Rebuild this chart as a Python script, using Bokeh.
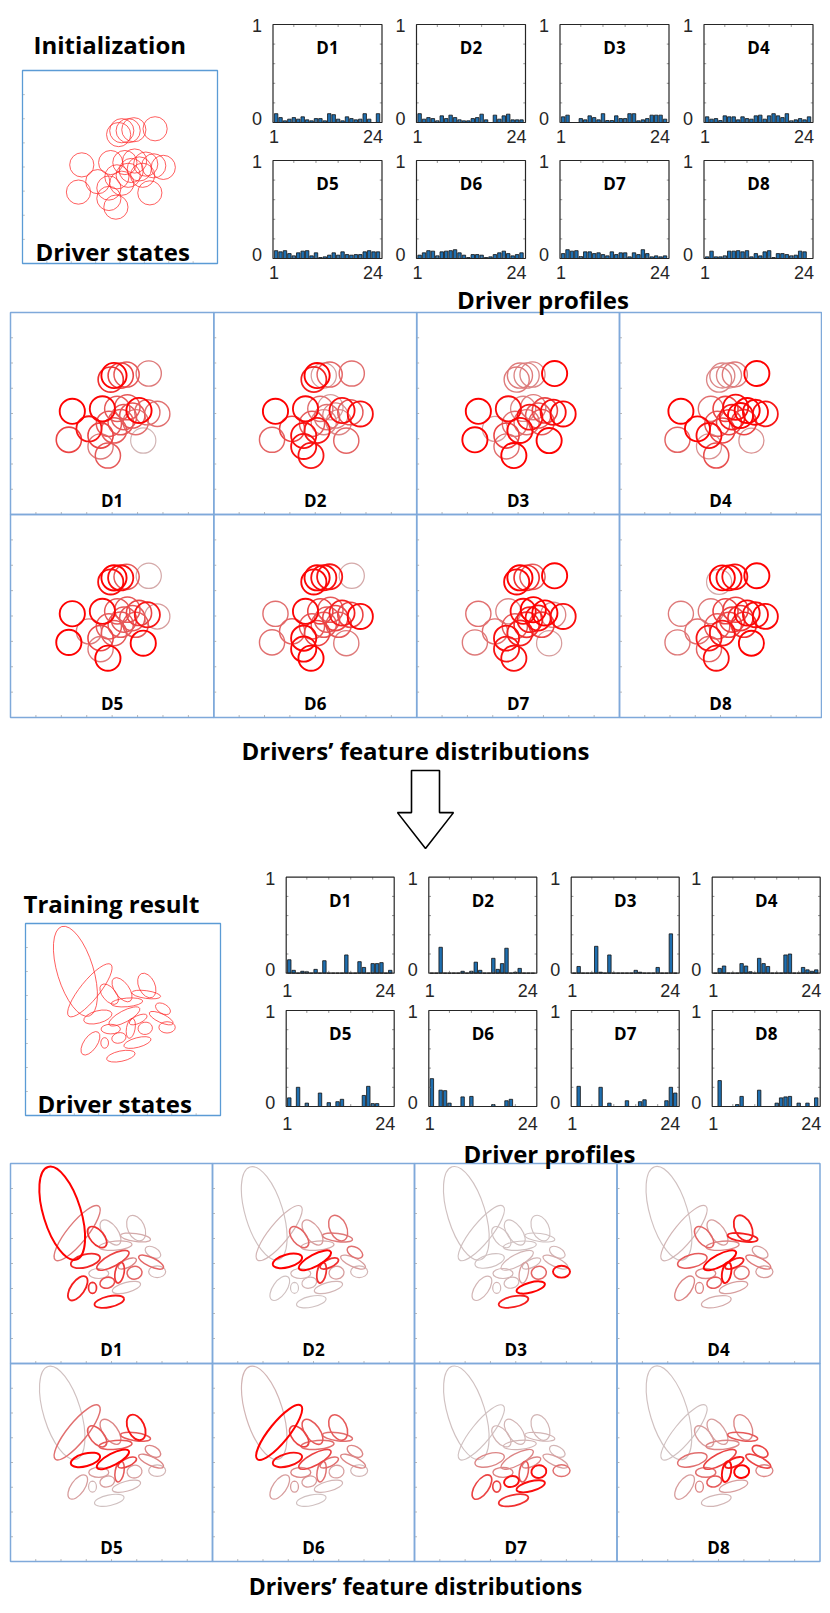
import numpy as np
from bokeh.plotting import figure
from bokeh.models import Range1d, ColumnDataSource
from bokeh.core.properties import value
from bokeh.embed import file_html
from bokeh.resources import INLINE

# ---------------------------------------------------------------- data
drivers = ["D1", "D2", "D3", "D4", "D5", "D6", "D7", "D8"]
bins = list(range(1, 25))
x_tick_values = [1, 24]
x_tick_labels = ["1", "24"]
y_tick_values = [0, 1]
y_tick_labels = ["0", "1"]

# driver profiles at initialization (share of each of the 24 states)
init_D1 = [.09, .05, .017, .034, .05, .034, .058, .027, .017, .04, .04, .017, .09, .08, .034, .017, .058, .04, .027, .034, .09, .034, 0, .09]
init_D2 = [.09, .034, .05, .04, .017, .068, .04, .075, .05, .027, .017, .017, .04, .05, .085, .027, 0, .075, .034, .068, .085, .027, .027, .027]
init_D3 = [.058, .075, 0, 0, .04, .027, .068, .05, .027, .09, .02, .02, .068, .04, .04, .09, .09, .017, .027, .04, .075, .075, .075, .034]
init_D4 = [.058, .034, .04, .02, .068, .058, .058, .027, .058, .04, .034, .068, .075, .034, .068, .09, .068, .05, .09, .017, .027, .04, .027, .058]
init_D5 = [.08, .068, .08, .05, .027, .058, .075, .08, .027, .058, .01, .017, .034, .058, .034, .068, .04, .034, .04, .04, .068, .08, .068, .068]
init_D6 = [.034, .058, .08, .075, .027, .068, .075, .08, .09, .058, .034, .01, .04, .04, .034, .01, .017, .04, .058, .075, .05, .027, .04, .058]
init_D7 = [.05, .09, .075, .08, .02, .068, .068, .05, .058, .04, .027, .068, .04, .058, .058, .017, .058, .04, .09, .05, .017, .027, .017, .027]
init_D8 = [.017, .075, .017, .017, .027, .075, .075, .08, .068, .08, .017, .05, .027, .068, .08, .01, .05, .05, .04, .027, .034, .075, .068, 0]

# driver profiles after training
trained_D1 = [.14, .03, 0, .02, .015, 0, .04, 0, .13, 0, 0, 0, 0, .19, 0, 0, .12, .06, 0, .1, .1, .11, 0, .03]
trained_D2 = [0, 0, .27, 0, 0, 0, 0, .02, 0, .02, .115, .03, 0, 0, .155, .04, .1, .26, 0, .01, .05, 0, 0, 0]
trained_D3 = [0, .07, 0, 0, 0, .28, .01, 0, .19, 0, 0, 0, 0, 0, .03, .01, 0, 0, 0, .06, 0, 0, .41, 0]
trained_D4 = [0, .05, .075, 0, 0, 0, .1, .075, .015, 0, .155, .1, .07, 0, 0, 0, .19, .2, 0, 0, .06, .035, .02, .035]
trained_D5 = [.09, 0, .2, 0, .035, 0, 0, .14, 0, .04, 0, .05, .075, 0, 0, 0, 0, .115, .21, .03, .03, 0, 0, 0]
trained_D6 = [.29, 0, .17, .165, .035, 0, 0, .1, 0, .105, 0, 0, 0, 0, .02, 0, 0, .06, .075, 0, 0, 0, 0, 0]
trained_D7 = [0, .21, 0, 0, 0, 0, .2, 0, .035, 0, 0, 0, .06, 0, 0, .05, .07, 0, 0, 0, 0, .06, .2, .14]
trained_D8 = [0, .27, 0, 0, 0, .02, .105, 0, 0, 0, .17, 0, 0, 0, .035, .09, .1, .105, 0, .035, 0, .035, 0, .09]

# initial driver states (circles), normalised state-space coordinates
state_x = [.509, .542, .571, .493, .680, .304, .452, .525, .575, .632, .722, .673, .558, .599, .542, .386, .287, .443, .509, .653, .443, .479, .484, .616]
state_y = [.688, .688, .693, .668, .698, .511, .523, .523, .531, .515, .498, .506, .482, .490, .457, .424, .370, .391, .416, .366, .337, .292, .449, .457]
state_r = 0.062

# weight of each initial state in each driver's feature distribution
init_w_D1 = [1, .6, .5, .7, .35, 1, .95, .5, .5, 1, .4, .4, .5, .5, .5, .85, .6, .6, .5, .1, .35, .5, .5, .4]
init_w_D2 = [1, .2, .45, .8, .4, 1, .95, .4, .2, .9, .9, .5, .4, .3, .3, .6, .45, .9, .85, .45, .9, .85, .5, .3]
init_w_D3 = [.35, .3, .3, .35, 1, 1, .9, .3, .35, .6, .95, .9, .85, .5, .4, .2, 1, .6, .95, 1, .4, 1, .4, .5]
init_w_D4 = [.3, .3, .35, .3, 1, 1, .4, .6, .9, 1, .85, .95, .8, .95, .6, 1, .45, .9, .6, .25, .25, .55, .5, .6]
init_w_D5 = [1, .9, .5, .9, .15, 1, .95, .5, .5, .6, .2, .85, .5, .5, .5, .35, 1, .6, .5, 1, .35, 1, .5, .5]
init_w_D6 = [.95, .9, .85, .95, .15, .4, .95, .6, .5, .8, .95, .6, .5, .6, .5, .45, .4, .95, .6, .35, .95, 1, .5, .5]
init_w_D7 = [1, .7, .5, .95, 1, .4, .3, .9, 1, 1, .9, .3, .8, .9, .7, .4, .35, .9, .8, .2, .85, .9, .5, .6]
init_w_D8 = [1, .95, .9, .15, 1, .35, .35, .6, .6, .95, .95, .9, .6, .7, .6, .4, .35, .85, .85, 1, .45, .9, .5, .7]

# trained driver states (ellipses): centre, axis lengths, orientation (deg)
ell_x = [.256, .330, .495, .429, .622, .619, .371, .507, .705, .696, .726, .540, .614, .479, .406, .333, .574, .489, .437, .578, .520]
ell_y = [.751, .652, .655, .632, .677, .630, .513, .516, .556, .507, .459, .454, .454, .404, .378, .376, .380, .309, .450, .500, .589]
ell_major = [.48, .342, .144, .124, .134, .149, .149, .178, .084, .134, .084, .104, .074, .074, .054, .139, .144, .149, .099, .099, .163]
ell_minor = [.188, .099, .074, .069, .084, .04, .064, .059, .05, .045, .059, .045, .064, .054, .04, .069, .05, .054, .05, .04, .045]
ell_angle = [107, 51, 126, 130, 115, -8, 15, 28, -30, -25, 0, 80, 10, 15, 90, 55, 15, 12, 0, 25, 5]

trained_w_D1 = [1, .35, .1, .7, .1, .15, .75, .6, .1, .45, .1, .65, .45, .55, .7, .8, .1, .85, .1, .3, .15]
trained_w_D2 = [.05, .1, .2, .45, .4, .35, 1, 1, .4, .2, .1, .7, .2, .1, .05, .05, .1, .05, .1, .7, .15]
trained_w_D3 = [.05, .05, .05, .05, .05, .05, .05, .1, .1, .15, .9, .2, .45, .1, .1, .1, 1, .8, .1, .1, .05]
trained_w_D4 = [.05, .1, .2, .45, .8, .8, .5, 1, .2, .35, .2, .9, .4, .5, .3, .3, .2, .15, .3, .8, .3]
trained_w_D5 = [.05, .4, .3, .5, .85, .5, 1, 1, .3, .3, .1, .5, .2, .2, .1, .2, .1, .05, .2, .6, .5]
trained_w_D6 = [.1, 1, .5, .6, .5, .4, .9, .6, .3, .3, .1, .4, .2, .2, .2, .2, .1, .05, .3, .4, .4]
trained_w_D7 = [.05, .05, .1, .1, .1, .1, .3, .3, .1, .2, .4, .5, .9, .9, .6, .6, .9, .7, .3, .3, .1]
trained_w_D8 = [.05, .05, .2, .2, .3, .5, .4, .6, .6, .6, .3, .9, 1, .5, .3, .2, .2, .1, .4, .8, .3]

init_profiles = [init_D1, init_D2, init_D3, init_D4, init_D5, init_D6, init_D7, init_D8]
trained_profiles = [trained_D1, trained_D2, trained_D3, trained_D4, trained_D5, trained_D6, trained_D7, trained_D8]
init_weights = [init_w_D1, init_w_D2, init_w_D3, init_w_D4, init_w_D5, init_w_D6, init_w_D7, init_w_D8]
trained_weights = [trained_w_D1, trained_w_D2, trained_w_D3, trained_w_D4, trained_w_D5, trained_w_D6, trained_w_D7, trained_w_D8]

# ---------------------------------------------------------------- figure
W, H = 822, 1605
OX, OY = 0, 0
p = figure(width=W, height=H, x_range=Range1d(OX, OX + W), y_range=Range1d(OY + H, OY),
           x_axis_type=None, y_axis_type=None, title=None, min_border=0,
           output_backend="svg", toolbar_location=None)
p.outline_line_color = None
p.background_fill_color = "white"

BOLD = dict(text_font=value("Open Sans"), text_font_style="bold", text_color="#000000")
TICKF = dict(text_font=value("Liberation Sans"), text_font_size="18px", text_color="#262626")


def box(name, L, R, T, B, x0, x1, y0, y1):
    kx = (x1 - x0) / (R - L)
    ky = (y1 - y0) / (B - T)
    p.extra_x_ranges[name] = Range1d(x0 - (L - OX) * kx, x1 + (OX + W - R) * kx)
    p.extra_y_ranges[name] = Range1d(y0 - (OY + H - B) * ky, y1 + (T - OY) * ky)
    return dict(x_range_name=name, y_range_name=name)


def shade(t):
    # light grey (low weight) -> pure red (high weight)
    r = int(round(205 + 50 * t))
    g = int(round(205 * (1 - t) ** 1.2))
    return "#%02x%02x%02x" % (r, g, g)


def frame_ticks(kw, color):
    fr = [k / 8 for k in range(1, 8)]
    p.segment(x0=[0] * 7, y0=fr, x1=[0.012] * 7, y1=fr, line_color=color, line_width=1, **kw)
    p.segment(x0=fr, y0=[0] * 7, x1=fr, y1=[0.012] * 7, line_color=color, line_width=1, **kw)


XLO, XHI = 0.3, 24.9


def bar_panel(name, L, T, w, h, label, vals, xlab_off):
    kw = box(name, L, L + w, T, T + h, XLO, XHI, 0, 1)
    p.vbar(x=bins, top=vals, bottom=0, width=0.78, fill_color="#1f6fb0",
           line_color="#111111", line_width=0.8, **kw)
    tk = [5, 10, 15, 20]
    p.segment(x0=tk, y0=[1] * 4, x1=tk, y1=[0.975] * 4, line_color="#777777", line_width=0.8, **kw)
    p.segment(x0=tk, y0=[0] * 4, x1=tk, y1=[0.025] * 4, line_color="#777777", line_width=0.8, **kw)
    yt = [0.2, 0.4, 0.6, 0.8]
    p.segment(x0=[XLO] * 4, y0=yt, x1=[XLO + 0.5] * 4, y1=yt, line_color="#777777", line_width=0.8, **kw)
    p.segment(x0=[XHI] * 4, y0=yt, x1=[XHI - 0.5] * 4, y1=yt, line_color="#777777", line_width=0.8, **kw)
    p.quad(left=[XLO], right=[XHI], bottom=[0], top=[1], fill_color=None,
           line_color="#262626", line_width=1.2, **kw)
    p.text(x=[(XLO + XHI) / 2], y=[1], text=[label], y_offset=23, text_align="center",
           text_baseline="alphabetic", text_font_size="17px", **BOLD, **kw)
    p.text(x=[XLO], y=[y_tick_values[1]], text=[y_tick_labels[1]], x_offset=-16, y_offset=1,
           text_align="center", text_baseline="middle", **TICKF, **kw)
    p.text(x=[XLO], y=[y_tick_values[0]], text=[y_tick_labels[0]], x_offset=-16, y_offset=-4,
           text_align="center", text_baseline="middle", **TICKF, **kw)
    p.text(x=[x_tick_values[0]], y=[0], text=[x_tick_labels[0]], x_offset=-2, y_offset=xlab_off,
           text_align="center", text_baseline="middle", **TICKF, **kw)
    p.text(x=[x_tick_values[1]], y=[0], text=[x_tick_labels[1]], x_offset=-5, y_offset=xlab_off,
           text_align="center", text_baseline="middle", **TICKF, **kw)


def circle_panel(name, L, R, T, B, weights, label, border):
    kw = box(name, L, R, T, B, 0, 1, 0, 1)
    order = np.argsort(weights, kind="stable")
    src = ColumnDataSource(dict(
        x=[state_x[i] for i in order], y=[state_y[i] for i in order],
        c=[shade(weights[i]) for i in order], lw=[1.1 + 0.8 * weights[i] for i in order]))
    p.circle(x="x", y="y", radius=state_r, source=src, fill_color=None,
             line_color="c", line_width="lw", **kw)
    frame_ticks(kw, "#b5b5b5")
    p.quad(left=[0], right=[1], bottom=[0], top=[1], fill_color=None,
           line_color=border, line_width=1.5, **kw)
    p.text(x=[0.5], y=[0], text=[label], y_offset=-14, text_align="center",
           text_baseline="alphabetic", text_font_size="17px", **BOLD, **kw)


def ellipse_panel(name, L, R, T, B, weights, label, border):
    kw = box(name, L, R, T, B, 0, 1, 0, 1)
    order = np.argsort(weights, kind="stable")
    src = ColumnDataSource(dict(
        x=[ell_x[i] for i in order], y=[ell_y[i] for i in order],
        w=[ell_major[i] for i in order], h=[ell_minor[i] for i in order],
        a=[ell_angle[i] for i in order],
        c=[shade(weights[i]) for i in order], lw=[1.1 + 0.9 * weights[i] for i in order]))
    p.ellipse(x="x", y="y", width="w", height="h", angle="a", angle_units="deg", source=src,
              fill_color=None, line_color="c", line_width="lw", **kw)
    frame_ticks(kw, "#b5b5b5")
    p.quad(left=[0], right=[1], bottom=[0], top=[1], fill_color=None,
           line_color=border, line_width=1.5, **kw)
    p.text(x=[0.5], y=[0], text=[label], y_offset=-14, text_align="center",
           text_baseline="alphabetic", text_font_size="17px", **BOLD, **kw)


# ---------------- section 1 : initialization
kw = box("states0", 22, 217, 70, 263, 0, 1, 0, 1)
p.circle(x=state_x, y=state_y, radius=state_r, fill_color=None, line_color="#ff2a2a",
         line_alpha=0.75, line_width=1, **kw)
frame_ticks(kw, "#c0c0c0")
p.quad(left=[0], right=[1], bottom=[0], top=[1], fill_color=None, line_color="#5b9bd5",
       line_width=1.3, **kw)

bar_l1 = [272.5, 416, 559.5, 703.5]
bar_t1 = [24, 160]
for i, d in enumerate(drivers):
    bar_panel("b0_%d" % i, bar_l1[i % 4], bar_t1[i // 4], 109, 98, d, init_profiles[i], 14)

gx1 = [10, 213.3, 416.2, 619, 821]
gy1 = [312, 514, 717]
for i, d in enumerate(drivers):
    c, r = i % 4, i // 4
    circle_panel("f0_%d" % i, gx1[c], gx1[c + 1], gy1[r], gy1[r + 1], init_weights[i], d, "#7fa9da")

# ---------------- arrow
kw = box("arrow", 397, 453, 770, 848, -0.5, 0.5, 0, 1)
p.patch(x=[-0.25, 0.25, 0.25, 0.5, 0, -0.5, -0.25], y=[1, 1, 0.46, 0.46, 0, 0.46, 0.46],
        fill_color="white", line_color="#000000", line_width=1.6, **kw)

# ---------------- section 2 : training result
kw = box("states1", 25, 220, 923, 1115, 0, 1, 0, 1)
p.ellipse(x=ell_x, y=ell_y, width=ell_major, height=ell_minor, angle=ell_angle, angle_units="deg",
          fill_color=None, line_color="#ff2a2a", line_alpha=0.75, line_width=1, **kw)
frame_ticks(kw, "#c0c0c0")
p.quad(left=[0], right=[1], bottom=[0], top=[1], fill_color=None, line_color="#5b9bd5",
       line_width=1.3, **kw)

bar_l2 = [285.7, 428.3, 570.7, 711.7]
bar_t2 = [876.7, 1010]
for i, d in enumerate(drivers):
    bar_panel("b1_%d" % i, bar_l2[i % 4], bar_t2[i // 4], 108, 96, d, trained_profiles[i], 17)

gx2 = [10, 212, 414, 616.5, 819.5]
gy2 = [1163, 1363, 1561]
for i, d in enumerate(drivers):
    c, r = i % 4, i // 4
    ellipse_panel("f1_%d" % i, gx2[c], gx2[c + 1], gy2[r], gy2[r + 1], trained_weights[i], d, "#7fa9da")

# ---------------- headings
heads = [("Initialization", 33, 43.5, "left", "24px"),
         ("Driver states", 35, 251, "left", "24px"),
         ("Driver profiles", 542.5, 299, "center", "24px"),
         ("Drivers\u2019 feature distributions", 415, 750, "center", "24px"),
         ("Training result", 23, 902.7, "left", "24px"),
         ("Driver states", 37, 1103.3, "left", "24px"),
         ("Driver profiles", 549, 1153, "center", "24px"),
         ("Drivers\u2019 feature distributions", 415, 1585, "center", "23px")]
for t, x, y, al, fs in heads:
    p.text(x=[x], y=[y], text=[t], text_align=al, text_baseline="alphabetic",
           text_font_size=fs, **BOLD)

open("out.html", "w").write(file_html(p, INLINE))
